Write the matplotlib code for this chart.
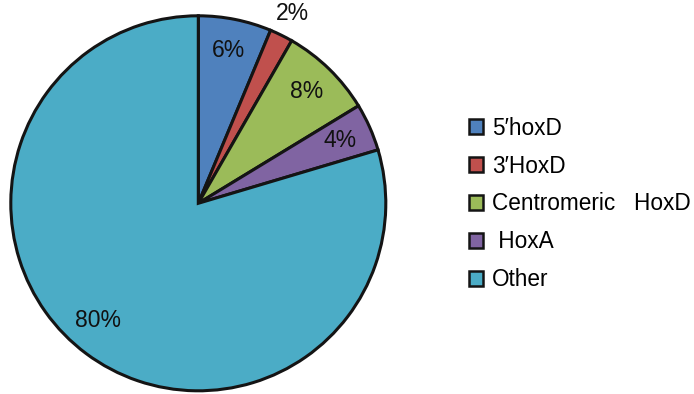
import matplotlib
matplotlib.use("Agg")
import matplotlib.pyplot as plt
from matplotlib.patches import Patch

plt.rcParams['font.family'] = ['Liberation Sans', 'DejaVu Sans']

# Share of each region
labels = ["5\u2032hoxD", "3\u2032HoxD", "Centromeric   HoxD", " HoxA", "Other"]
shares = [6.3, 2.0, 8.0, 4.1, 79.6]
colors = ["#4F81BD", "#C0504D", "#9BBB59", "#8064A2", "#4BACC6"]

W, H = 694, 394
fig = plt.figure(figsize=(W / 100, H / 100), dpi=100)

cx, cy, r = 198.3, 203.3, 187.5
ax = fig.add_axes([(cx - r) / W, (H - cy - r) / H, 2 * r / W, 2 * r / H])

wedges, texts, autotexts = ax.pie(
    shares, colors=colors, startangle=90, counterclock=False,
    autopct="%.0f%%", pctdistance=0.83,
    wedgeprops=dict(edgecolor="#141414", linewidth=2.2, clip_on=False),
    textprops=dict(fontsize=16.5, color="#111111"),
)
# The thin slice carries its label outside the pie
x2, y2 = autotexts[1].get_position()
autotexts[1].set_position((x2 / 0.83 * 1.13, y2 / 0.83 * 1.13))
# Nudge the large slice's label a little further round
x5, y5 = autotexts[4].get_position()
autotexts[4].set_position((x5 - 0.04, y5 + 0.04))
ax.set_xlim(-1, 1)
ax.set_ylim(-1, 1)
ax.set_aspect("equal")
ax.axis("off")

handles = [Patch(facecolor=c, edgecolor="#141414", linewidth=1.8) for c in colors]
fig.legend(handles, labels, loc="center left", bbox_to_anchor=(469 / W, 1 - 204 / H),
           frameon=False, fontsize=16.3, handlelength=0.6, handleheight=0.6,
           handletextpad=0.4, labelspacing=0.66, borderaxespad=0, borderpad=0)

fig.savefig("out.png", dpi=100)
